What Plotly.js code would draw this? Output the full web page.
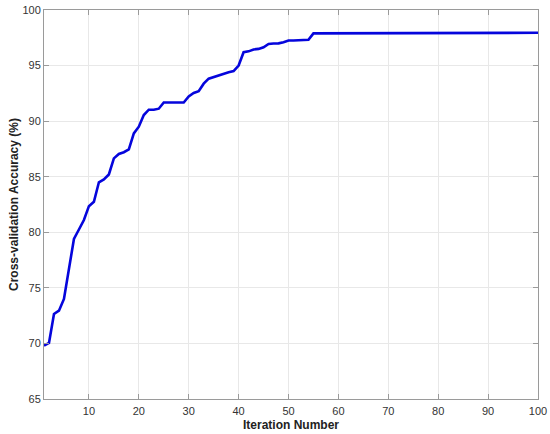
<!DOCTYPE html>
<html>
<head>
<meta charset="utf-8">
<script src="https://cdn.plot.ly/plotly-3.0.1.min.js"></script>
<style>html,body{margin:0;padding:0;background:#fff;}#chart{width:550px;height:434px;}</style>
</head>
<body>
<div id="chart"></div>
<script>
const iterations = Array.from({length: 100}, (_, i) => i + 1);
const accuracy = [
  69.8, 70.05, 72.65, 72.95, 74.0, 76.7, 79.4, 80.25, 81.1, 82.35,
  82.75, 84.5, 84.75, 85.2, 86.65, 87.05, 87.2, 87.45, 88.9, 89.5,
  90.55, 91.03, 91.03, 91.12, 91.68, 91.68, 91.68, 91.68, 91.68, 92.23,
  92.53, 92.7, 93.37, 93.82, 93.97, 94.15, 94.28, 94.4, 94.5, 95.0,
  96.2, 96.28, 96.45, 96.5, 96.65, 96.95, 96.98, 97.0, 97.1, 97.26,
  97.26, 97.26, 97.26, 97.32, 97.9, 97.9, 97.9, 97.9, 97.9, 97.9,
  97.9, 97.9, 97.9, 97.9, 97.9, 97.9, 97.9, 97.9, 97.9, 97.9,
  97.9, 97.9, 97.9, 97.9, 97.9, 97.9, 97.9, 97.9, 97.9, 97.9,
  97.9, 97.9, 97.9, 97.9, 97.9, 97.9, 97.9, 97.9, 97.9, 97.9,
  97.9, 97.9, 97.9, 97.9, 97.9, 97.9, 97.95, 97.95, 97.95, 97.95
];
const xTicks = [10, 20, 30, 40, 50, 60, 70, 80, 90, 100];
const yTicks = [65, 70, 75, 80, 85, 90, 95, 100];
const xTitle = 'Iteration Number';
const yTitle = 'Cross-validation Accuracy (%)';

const axisCommon = {
  showline: true, mirror: 'ticks', linecolor: '#9a9a9a', linewidth: 1,
  ticks: 'inside', ticklen: 5, tickcolor: '#9a9a9a', tickwidth: 1,
  showgrid: true, gridcolor: '#e8e8e8', gridwidth: 1,
  zeroline: false,
  tickfont: {family: 'Liberation Sans, Arial, sans-serif', size: 11, color: '#333'}
};

Plotly.newPlot('chart', [{
  x: iterations, y: accuracy, type: 'scatter', mode: 'lines',
  line: {color: '#0505dc', width: 2.6}, hoverinfo: 'skip'
}], {
  width: 550, height: 434,
  margin: {l: 44, r: 12, t: 10, b: 35, pad: 0},
  paper_bgcolor: '#fff', plot_bgcolor: '#fff',
  showlegend: false,
  xaxis: Object.assign({}, axisCommon, {
    range: [1, 100], tickmode: 'array', tickvals: xTicks, ticktext: xTicks.map(String),
    ticklabelstandoff: 2,
    title: {text: xTitle, standoff: 4, font: {family: 'Liberation Sans, Arial, sans-serif', size: 12, color: '#222', weight: 'bold'}}
  }),
  yaxis: Object.assign({}, axisCommon, {
    range: [65, 100], tickmode: 'array', tickvals: yTicks, ticktext: yTicks.map(String),
    title: {text: yTitle, standoff: 1, font: {family: 'Liberation Sans, Arial, sans-serif', size: 12, color: '#222', weight: 'bold'}}
  })
}, {staticPlot: true});
</script>
</body>
</html>
